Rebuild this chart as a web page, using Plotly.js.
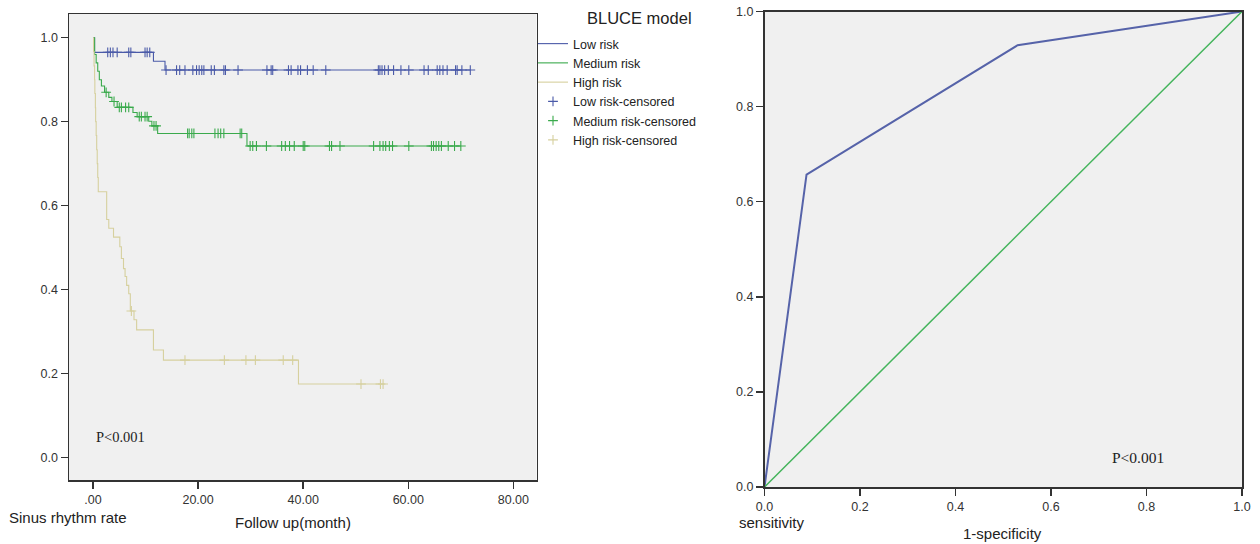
<!DOCTYPE html>
<html><head><meta charset="utf-8">
<script src="https://cdn.plot.ly/plotly-3.0.1.min.js"></script>
<style>html,body{margin:0;padding:0;background:#fff}#chart{width:1260px;height:544px}</style>
</head><body><div id="chart"></div>
<script>
// ---------- Kaplan-Meier data (left panel) ----------
const lowTimes = [0.3, 11.5, 13.7];
const lowSurv  = [0.965, 0.944, 0.923];
const lowEnd   = 71.8;
const lowCensored = [2.8, 3.3, 3.8, 4.6, 6.8, 7.2, 9.9, 10.3, 10.8,
  13.9, 15.9, 16.5, 17.5, 19.0, 19.7, 20.2, 20.7, 21.1, 22.5, 23.1, 24.9, 25.2, 27.6,
  33.1, 33.9, 34.2, 37.2, 37.7, 39.0, 39.5, 40.8, 41.9, 44.3,
  54.3, 54.6, 55.0, 55.5, 56.2, 57.2, 58.6, 60.1, 63.0, 63.8, 65.5, 66.0, 66.6, 67.4,
  69.0, 69.3, 70.2, 71.8];

const medTimes = [0.3, 0.6, 0.9, 1.2, 1.6, 2.2, 3.0, 3.6, 4.6, 7.6, 8.4, 10.6, 11.2, 12.3, 29.3];
const medSurv  = [0.96, 0.94, 0.92, 0.90, 0.885, 0.87, 0.858, 0.848, 0.834, 0.822, 0.812, 0.801, 0.790, 0.772, 0.742];
const medEnd   = 70.0;
const medCensored = [2.5, 4.0, 5.0, 5.4, 6.2, 6.8, 8.8, 9.2, 9.9, 10.3, 11.6, 12.0,
  18.0, 18.3, 18.8, 19.2, 23.2, 23.8, 24.3, 24.9, 28.0, 28.3,
  29.9, 30.4, 31.1, 33.0, 35.9, 36.6, 37.4, 38.3, 40.0, 40.3, 45.0, 45.4, 47.0,
  53.4, 54.6, 55.2, 55.7, 56.4, 57.0, 60.1, 64.4, 64.8, 65.3, 65.8, 66.3, 67.6, 68.8, 70.0];

const highTimes = [0.1, 0.2, 0.3, 0.35, 0.45, 0.5, 0.6, 0.7, 0.8, 0.9, 1.0, 2.6, 3.0, 3.9, 5.1,
  5.4, 5.8, 6.1, 6.4, 6.8, 7.1, 7.8, 8.3, 11.5, 13.4, 39.1];
const highSurv  = [0.967, 0.933, 0.9, 0.867, 0.833, 0.8, 0.767, 0.733, 0.7, 0.667, 0.633, 0.567, 0.546, 0.525, 0.502,
  0.474, 0.45, 0.431, 0.41, 0.39, 0.349, 0.328, 0.304, 0.256, 0.232, 0.175];
const highEnd   = 55.4;
const highCensored = [7.3, 17.5, 25.0, 29.1, 30.9, 36.2, 38.0, 51.0, 54.7, 55.2];

const kmXTicks = [0, 20, 40, 60, 80];
const kmXTickText = ['.00', '20.00', '40.00', '60.00', '80.00'];
const kmYTicks = [0, 0.2, 0.4, 0.6, 0.8, 1.0];
const kmYTickText = ['0.0', '0.2', '0.4', '0.6', '0.8', '1.0'];

// ---------- ROC data (right panel) ----------
const rocFpr = [0, 0.088, 0.530, 1];
const rocTpr = [0, 0.657, 0.929, 1];
const refX = [0, 1];
const refY = [0, 1];
const rocTicks = [0, 0.2, 0.4, 0.6, 0.8, 1.0];
const rocTickText = ['0.0', '0.2', '0.4', '0.6', '0.8', '1.0'];

// ---------- helpers ----------
function stepXY(times, surv, end) {
  const x = [0], y = [1];
  times.forEach((t, i) => { x.push(t); y.push(surv[i]); });
  x.push(end); y.push(surv[surv.length - 1]);
  return {x, y};
}
function survAt(times, surv, t) {
  let s = 1;
  for (let i = 0; i < times.length; i++) { if (times[i] <= t) s = surv[i]; }
  return s;
}
const W = 1260, H = 544;
const px = v => v / W;
const py = v => 1 - v / H;

const cBlue = '#4A5AA8', cGreen = '#3AAA4C', cTan = '#D6D09E';

const lowXY = stepXY(lowTimes, lowSurv, lowEnd);
const medXY = stepXY(medTimes, medSurv, medEnd);
const highXY = stepXY(highTimes, highSurv, highEnd);

const lineTrace = (xy, name, color) => ({
  type: 'scatter', mode: 'lines', x: xy.x, y: xy.y, name: name,
  line: {shape: 'hv', color: color, width: 1.1}, xaxis: 'x', yaxis: 'y'
});
const censTrace = (times, surv, cens, name, color) => ({
  type: 'scatter', mode: 'markers', x: cens, y: cens.map(t => survAt(times, surv, t)), name: name,
  marker: {symbol: 'cross-thin', size: 7, line: {color: color, width: 1.1}, color: color},
  xaxis: 'x', yaxis: 'y'
});

const traces = [
  lineTrace(lowXY, 'Low risk', cBlue),
  lineTrace(medXY, 'Medium risk', cGreen),
  lineTrace(highXY, 'High risk', cTan),
  censTrace(lowTimes, lowSurv, lowCensored, 'Low risk-censored', cBlue),
  censTrace(medTimes, medSurv, medCensored, 'Medium risk-censored', cGreen),
  censTrace(highTimes, highSurv, highCensored, 'High risk-censored', cTan),
  {type: 'scatter', mode: 'lines', x: rocFpr, y: rocTpr, showlegend: false,
   line: {color: '#5663A9', width: 2}, xaxis: 'x2', yaxis: 'y2'},
  {type: 'scatter', mode: 'lines', x: refX, y: refY, showlegend: false,
   line: {color: '#44B45C', width: 1.5}, xaxis: 'x2', yaxis: 'y2'}
];

const tickFont = {family: 'Arial, "Liberation Sans", sans-serif', size: 12.5, color: '#333'};
const axBase = {
  showgrid: false, zeroline: false, showline: true, mirror: true,
  linecolor: '#333', linewidth: 1.5, ticks: 'outside', ticklen: 7, tickwidth: 1.5,
  tickcolor: '#333', tickfont: tickFont, fixedrange: true
};

const labelFont = {family: 'Arial, "Liberation Sans", sans-serif', size: 15, color: '#222'};
const serifFont = {family: '"Liberation Serif", "Times New Roman", serif', size: 14.5, color: '#222'};

const layout = {
  width: W, height: H,
  margin: {l: 0, r: 0, t: 0, b: 0},
  paper_bgcolor: '#fff', plot_bgcolor: '#F0F0F0',
  showlegend: true,
  legend: {
    x: px(533), y: py(29), xanchor: 'left', yanchor: 'top',
    font: {family: 'Arial, "Liberation Sans", sans-serif', size: 12.5, color: '#222'},
    bgcolor: 'rgba(0,0,0,0)', borderwidth: 0, tracegroupgap: 0, itemwidth: 30
  },
  xaxis: Object.assign({}, axBase, {
    domain: [px(69), px(536.5)], range: [-4.57, 84.4],
    tickvals: kmXTicks, ticktext: kmXTickText, anchor: 'y'
  }),
  yaxis: Object.assign({}, axBase, {
    domain: [py(480), py(14)], range: [-0.0536, 1.0565],
    tickvals: kmYTicks, ticktext: kmYTickText, anchor: 'x'
  }),
  xaxis2: Object.assign({}, axBase, {
    domain: [px(764.5), px(1242)], range: [0, 1],
    tickvals: rocTicks, ticktext: rocTickText, anchor: 'y2'
  }),
  yaxis2: Object.assign({}, axBase, {
    domain: [py(487), py(11.5)], range: [0, 1],
    tickvals: rocTicks, ticktext: rocTickText, anchor: 'x2'
  }),
  annotations: [
    {text: 'BLUCE model', x: px(639), y: py(18), xref: 'paper', yref: 'paper',
     xanchor: 'center', yanchor: 'middle', showarrow: false,
     font: {family: 'Arial, "Liberation Sans", sans-serif', size: 16.5, color: '#222'}},
    {text: 'Sinus rhythm rate', x: px(7), y: py(517), xref: 'paper', yref: 'paper',
     xanchor: 'left', yanchor: 'middle', showarrow: false, font: labelFont},
    {text: 'Follow up(month)', x: px(293), y: py(522), xref: 'paper', yref: 'paper',
     xanchor: 'center', yanchor: 'middle', showarrow: false, font: labelFont},
    {text: 'P<0.001', x: px(94), y: py(437), xref: 'paper', yref: 'paper',
     xanchor: 'left', yanchor: 'middle', showarrow: false, font: serifFont},
    {text: 'sensitivity', x: px(737), y: py(522), xref: 'paper', yref: 'paper',
     xanchor: 'left', yanchor: 'middle', showarrow: false, font: labelFont},
    {text: '1-specificity', x: px(1003), y: py(533), xref: 'paper', yref: 'paper',
     xanchor: 'center', yanchor: 'middle', showarrow: false, font: labelFont},
    {text: 'P<0.001', x: px(1110), y: py(457), xref: 'paper', yref: 'paper',
     xanchor: 'left', yanchor: 'middle', showarrow: false,
     font: {family: '"Liberation Serif", "Times New Roman", serif', size: 15.5, color: '#222'}}
  ]
};

Plotly.newPlot('chart', traces, layout, {displayModeBar: false, staticPlot: true});
</script>
</body></html>
